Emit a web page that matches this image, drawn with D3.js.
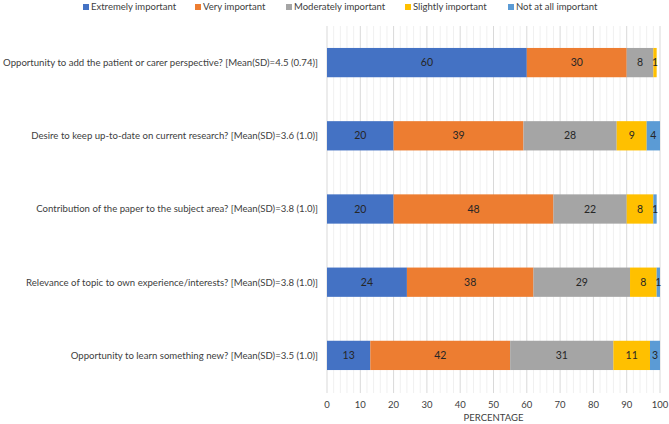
<!DOCTYPE html>
<html>
<head>
<meta charset="utf-8">
<script src="https://cdn.jsdelivr.net/npm/d3@7"></script>
<style>
  body { margin: 0; background: #fff; }
  svg { display: block; font-family: Lato, "Open Sans", sans-serif; }
</style>
</head>
<body>
<svg id="chart"></svg>
<script>
const categories = [
  "Opportunity to add the patient or carer perspective? [Mean(SD)=4.5 (0.74)]",
  "Desire to keep up-to-date on current research? [Mean(SD)=3.6 (1.0)]",
  "Contribution of the paper to the subject area? [Mean(SD)=3.8 (1.0)]",
  "Relevance of topic to own experience/interests? [Mean(SD)=3.8 (1.0)]",
  "Opportunity to learn something new? [Mean(SD)=3.5 (1.0)]"
];
const seriesNames = ["Extremely important", "Very important", "Moderately important", "Slightly important", "Not at all important"];
const extremely = [60, 20, 20, 24, 13];
const very = [30, 39, 48, 38, 42];
const moderately = [8, 28, 22, 29, 31];
const slightly = [1, 9, 8, 8, 11];
const notAtAll = [0, 4, 1, 1, 3];
const xTicks = [0, 10, 20, 30, 40, 50, 60, 70, 80, 90, 100];
const colors = ["#4472C4", "#ED7D31", "#A5A5A5", "#FFC000", "#5B9BD5"];

const W = 669, H = 424;
const svg = d3.select("#chart").attr("width", W).attr("height", H);

const x = d3.scaleLinear().domain([0, 100]).range([327, 660]);
const y = d3.scaleBand().domain(categories).range([26, 392]).paddingInner(0.6).paddingOuter(0.3);

const rows = categories.map((c, i) => ({c, vals: [extremely[i], very[i], moderately[i], slightly[i], notAtAll[i]]}));

// gridlines: minor every 2, major every 10
const gridTop = 26, gridBot = 393;
svg.append("g").selectAll("line")
  .data(d3.range(0, 101, 2).filter(v => v % 10 !== 0))
  .enter().append("line")
  .attr("x1", d => x(d)).attr("x2", d => x(d))
  .attr("y1", gridTop).attr("y2", gridBot)
  .attr("stroke", "#f0f0f0").attr("stroke-width", 1);
svg.append("g").selectAll("line")
  .data(xTicks)
  .enter().append("line")
  .attr("x1", d => x(d)).attr("x2", d => x(d))
  .attr("y1", gridTop).attr("y2", gridBot)
  .attr("stroke", "#d9d9d9").attr("stroke-width", 1);

// bars
const segs = [];
rows.forEach(r => {
  let acc = 0;
  r.vals.forEach((v, k) => {
    segs.push({c: r.c, k, v, x0: acc, x1: acc + v});
    acc += v;
  });
});

svg.append("g").selectAll("rect")
  .data(segs.filter(d => d.v > 0))
  .enter().append("rect")
  .attr("x", d => x(d.x0))
  .attr("y", d => y(d.c))
  .attr("width", d => x(d.x1) - x(d.x0))
  .attr("height", y.bandwidth())
  .attr("fill", d => colors[d.k]);

svg.append("g").selectAll("text")
  .data(segs.filter(d => d.v > 0))
  .enter().append("text")
  .attr("x", d => (x(d.x0) + x(d.x1)) / 2)
  .attr("y", d => y(d.c) + y.bandwidth() / 2)
  .attr("dy", "0.35em")
  .attr("text-anchor", "middle")
  .attr("font-size", 10.5)
  .attr("fill", "#262626")
  .text(d => d.v);

// category labels
svg.append("g").selectAll("text")
  .data(categories)
  .enter().append("text")
  .attr("x", 318)
  .attr("y", d => y(d) + y.bandwidth() / 2)
  .attr("dy", "0.35em")
  .attr("text-anchor", "end")
  .attr("font-size", 9.6)
  .attr("fill", "#404040")
  .text(d => d);

// x axis labels
svg.append("g").selectAll("text")
  .data(xTicks)
  .enter().append("text")
  .attr("x", d => x(d))
  .attr("y", 405)
  .attr("dy", "0.35em")
  .attr("text-anchor", "middle")
  .attr("font-size", 9.5)
  .attr("fill", "#404040")
  .text(d => d);

svg.append("text")
  .attr("x", (x(0) + x(100)) / 2)
  .attr("y", 418)
  .attr("dy", "0.35em")
  .attr("text-anchor", "middle")
  .attr("font-size", 9.5)
  .attr("fill", "#404040")
  .text("PERCENTAGE");

// legend
const legendX = [83, 195, 286, 405, 508];
const legend = svg.append("g").selectAll("g")
  .data(seriesNames)
  .enter().append("g")
  .attr("transform", (d, i) => `translate(${legendX[i]},7)`);
legend.append("rect")
  .attr("x", 0).attr("y", -3)
  .attr("width", 6).attr("height", 6)
  .attr("fill", (d, i) => colors[i]);
legend.append("text")
  .attr("x", 8).attr("dy", "0.35em")
  .attr("font-size", 9.5)
  .attr("fill", "#404040")
  .text(d => d);
</script>
</body>
</html>
